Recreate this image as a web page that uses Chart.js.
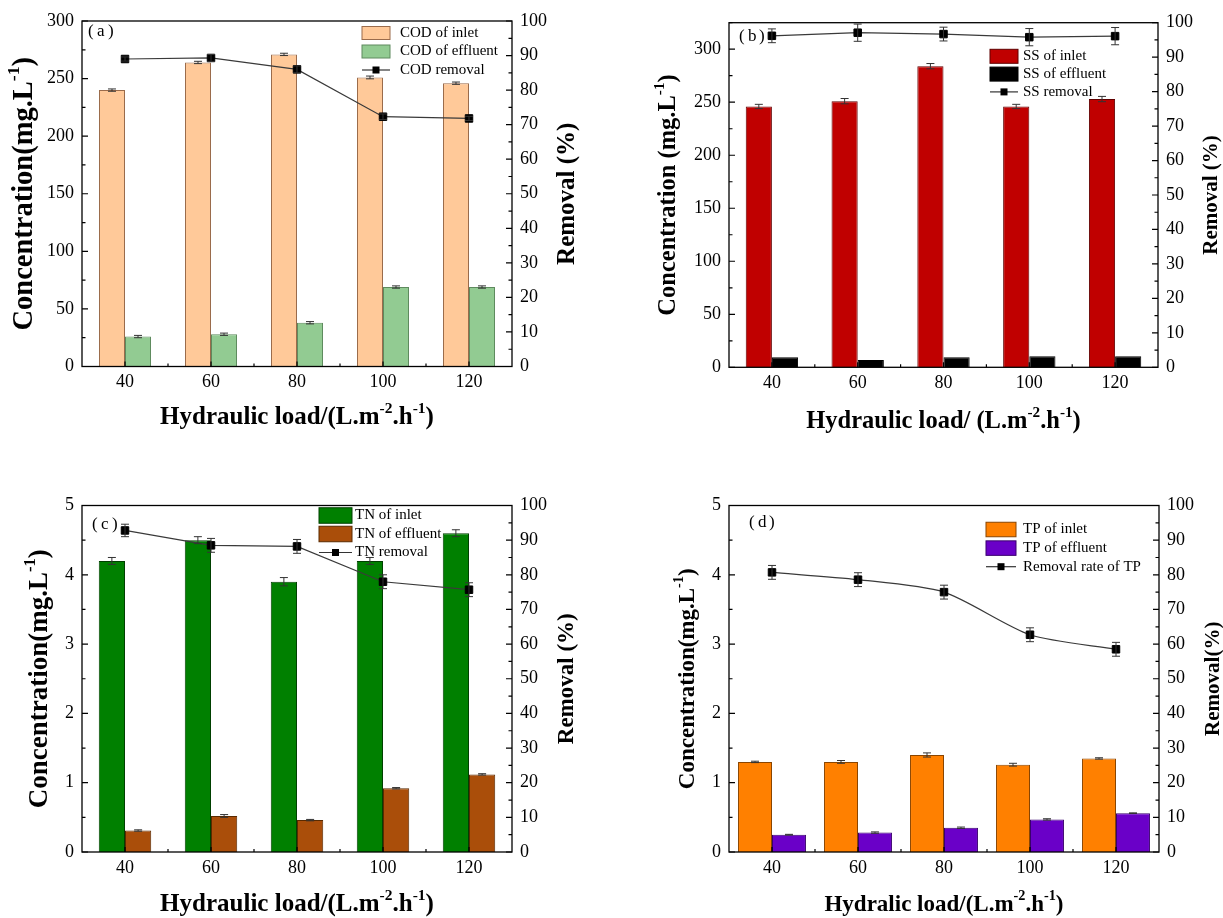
<!DOCTYPE html>
<html>
<head>
<meta charset="utf-8">
<script src="https://cdn.jsdelivr.net/npm/chart.js@4.4.1/dist/chart.umd.min.js"></script>
<style>
body { margin: 0; background: #fff; width: 1223px; height: 918px; overflow: hidden; position: relative; }
canvas { position: absolute; }
</style>
</head>
<body>
<canvas id="panelA" width="611" height="459" style="left:0;top:0"></canvas>
<canvas id="panelB" width="612" height="459" style="left:611px;top:0"></canvas>
<canvas id="panelC" width="611" height="459" style="left:0;top:459px"></canvas>
<canvas id="panelD" width="612" height="459" style="left:611px;top:459px"></canvas>
<script>
// cargas hidraulicas (eje x)
const cargas = ['40', '60', '80', '100', '120'];

// (a) COD
const codInlet = [240, 264, 271, 251, 246];
const codInletErr = [1, 1, 1, 1.2, 1];
const codEffluent = [26, 28, 38, 69, 69];
const codEffluentErr = [1, 1, 1, 1, 1];
const codRemoval = [89, 89.3, 86, 72.3, 71.8];
const codRemovalErr = [0.6, 1, 1, 0.8, 0.6];

// (b) SS
const ssInlet = [246, 251, 284, 246, 253];
const ssInletErr = [2, 2.5, 2.5, 2, 2.5];
const ssEffluent = [9.5, 7, 9.5, 10.5, 10.5];
const ssEffluentErr = [0, 0, 0, 0, 0];
const ssRemoval = [96.2, 97.1, 96.7, 95.8, 96.1];
const ssRemovalErr = [2, 2.5, 2, 2.5, 2.5];

// (c) TN
const tnInlet = [4.2, 4.5, 3.9, 4.2, 4.6];
const tnInletErr = [0.05, 0.05, 0.06, 0.05, 0.05];
const tnEffluent = [0.31, 0.52, 0.46, 0.92, 1.12];
const tnEffluentErr = [0.01, 0.02, 0.01, 0.01, 0.01];
const tnRemoval = [92.8, 88.5, 88.2, 78.0, 75.7];
const tnRemovalErr = [1.8, 2, 2, 2, 2];

// (d) TP
const tpInlet = [1.30, 1.30, 1.40, 1.26, 1.35];
const tpInletErr = [0.01, 0.02, 0.03, 0.02, 0.01];
const tpEffluent = [0.25, 0.28, 0.35, 0.47, 0.56];
const tpEffluentErr = [0.005, 0.01, 0.01, 0.01, 0.005];
const tpRemoval = [80.7, 78.6, 75.0, 62.7, 58.5];
const tpRemovalErr = [2, 2, 2, 2, 2];

const serif = "'Liberation Serif','Times New Roman',serif";

// texto con superindices: "mg.L^{-1}"
const dibujarTexto = (ctx, texto, size, bold, cx, cy, rot) => {
  const partes = texto.split(/\^\{([^}]*)\}/);
  const peso = bold ? 'bold ' : '';
  let total = 0;
  const medidas = partes.map((p, i) => {
    const s = i % 2 ? size * 0.62 : size;
    ctx.font = peso + s + 'px ' + serif;
    const w = ctx.measureText(p).width;
    total += w;
    return { p: p, s: s, w: w, sup: i % 2 === 1 };
  });
  ctx.save();
  ctx.translate(cx, cy);
  if (rot) ctx.rotate(rot);
  ctx.textBaseline = 'middle';
  ctx.textAlign = 'left';
  ctx.fillStyle = '#000';
  let x = -total / 2;
  medidas.forEach(m => {
    ctx.font = peso + m.s + 'px ' + serif;
    ctx.fillText(m.p, x, m.sup ? -size * 0.36 : 0);
    x += m.w;
  });
  ctx.restore();
};

const crearPanel = (id, cfg) => {
  const canvas = document.getElementById(id);
  const W = canvas.width, H = canvas.height;
  const area = cfg.area;

  const panelPlugin = {
    id: 'panel' + id,
    afterDatasetsDraw(chart) {
      const ctx = chart.ctx;
      const sy = chart.scales.y, sy1 = chart.scales.y1;

      // barras de error
      ctx.save();
      ctx.strokeStyle = '#333';
      ctx.lineWidth = 1;
      chart.data.datasets.forEach((ds, i) => {
        const meta = chart.getDatasetMeta(i);
        const escala = ds.yAxisID === 'y1' ? sy1 : sy;
        meta.data.forEach((el, j) => {
          const e = ds.errores[j];
          if (!e) return;
          const v = ds.data[j];
          const y1 = escala.getPixelForValue(v + e);
          const y2 = escala.getPixelForValue(v - e);
          ctx.beginPath();
          ctx.moveTo(el.x, y1); ctx.lineTo(el.x, y2);
          ctx.moveTo(el.x - 4, y1); ctx.lineTo(el.x + 4, y1);
          ctx.moveTo(el.x - 4, y2); ctx.lineTo(el.x + 4, y2);
          ctx.stroke();
        });
      });
      ctx.restore();
    },
    afterDraw(chart) {
      const ctx = chart.ctx;
      const ca = chart.chartArea;
      const sx = chart.scales.x, sy = chart.scales.y, sy1 = chart.scales.y1;
      ctx.save();
      ctx.strokeStyle = '#000';
      ctx.lineWidth = 1.3;
      ctx.strokeRect(ca.left, ca.top, ca.right - ca.left, ca.bottom - ca.top);

      // marcas hacia dentro
      ctx.lineWidth = 1.2;
      ctx.beginPath();
      sy.ticks.forEach(t => {
        const y = sy.getPixelForValue(t.value);
        const largo = t.label !== '' ? 6 : 3.5;
        ctx.moveTo(ca.left, y); ctx.lineTo(ca.left + largo, y);
      });
      sy1.ticks.forEach(t => {
        const y = sy1.getPixelForValue(t.value);
        const largo = t.label !== '' ? 6 : 3.5;
        ctx.moveTo(ca.right, y); ctx.lineTo(ca.right - largo, y);
      });
      for (let i = 0; i < cargas.length; i++) {
        const x = sx.getPixelForValue(i);
        ctx.moveTo(x, ca.bottom); ctx.lineTo(x, ca.bottom - 5);
        if (i < cargas.length - 1) {
          const xm = sx.getPixelForValue(i + 0.5);
          ctx.moveTo(xm, ca.bottom); ctx.lineTo(xm, ca.bottom - 3);
        }
      }
      ctx.stroke();

      // leyenda
      const lg = cfg.leyenda;
      chart.data.datasets.forEach((ds, i) => {
        const cy = lg.y + i * lg.dy;
        if (ds.type === 'bar') {
          ctx.fillStyle = ds.backgroundColor;
          ctx.fillRect(lg.x, cy - lg.h / 2, lg.w, lg.h);
          ctx.strokeStyle = ds.borderColor;
          ctx.lineWidth = 1;
          ctx.strokeRect(lg.x, cy - lg.h / 2, lg.w, lg.h);
        } else {
          ctx.strokeStyle = '#333';
          ctx.lineWidth = 1.2;
          ctx.beginPath();
          ctx.moveTo(lg.x, cy); ctx.lineTo(lg.x + lg.w, cy);
          ctx.stroke();
          ctx.fillStyle = '#000';
          ctx.fillRect(lg.x + lg.w / 2 - 3.5, cy - 3.5, 7, 7);
        }
        ctx.fillStyle = '#000';
        ctx.font = lg.size + 'px ' + serif;
        ctx.textAlign = 'left';
        ctx.textBaseline = 'middle';
        ctx.fillText(ds.label, lg.tx, cy);
      });

      // etiqueta del panel: ( a )
      ctx.font = '17px ' + serif;
      ctx.fillText('(', cfg.etqX, cfg.etqY);
      ctx.fillText(cfg.etiqueta, cfg.etqX + 9, cfg.etqY);
      ctx.fillText(')', cfg.etqX + 20, cfg.etqY);
      ctx.restore();

      // titulos de ejes
      const midY = (ca.top + ca.bottom) / 2;
      dibujarTexto(ctx, cfg.tituloX, cfg.tamX, true, (ca.left + ca.right) / 2, cfg.posX);
      dibujarTexto(ctx, cfg.tituloY, cfg.tamY, true, cfg.posY, midY, -Math.PI / 2);
      dibujarTexto(ctx, cfg.tituloY1, cfg.tamY1, true, cfg.posY1, midY, -Math.PI / 2);
    }
  };

  const fuenteTicks = { family: serif, size: 18 };
  return new Chart(canvas.getContext('2d'), {
    type: 'bar',
    data: {
      labels: cargas,
      datasets: [
        {
          type: 'bar', label: cfg.barras[0].label, data: cfg.barras[0].data, errores: cfg.barras[0].err,
          backgroundColor: cfg.barras[0].color, borderColor: cfg.barras[0].borde, borderWidth: 1,
          yAxisID: 'y', order: 2, categoryPercentage: cfg.catPct, barPercentage: 1
        },
        {
          type: 'bar', label: cfg.barras[1].label, data: cfg.barras[1].data, errores: cfg.barras[1].err,
          backgroundColor: cfg.barras[1].color, borderColor: cfg.barras[1].borde, borderWidth: 1,
          yAxisID: 'y', order: 2, categoryPercentage: cfg.catPct, barPercentage: 1
        },
        {
          type: 'line', label: cfg.linea.label, data: cfg.linea.data, errores: cfg.linea.err,
          borderColor: '#3a3a3a', borderWidth: 1.2, pointStyle: 'rect', pointRadius: 5.3,
          pointBackgroundColor: '#000', pointBorderColor: '#000', pointBorderWidth: 1,
          tension: cfg.tension || 0,
          fill: false, yAxisID: 'y1', order: 0
        }
      ]
    },
    options: {
      responsive: false,
      animation: false,
      layout: { padding: { top: area.top, left: 0, right: 0, bottom: 0 } },
      plugins: { legend: { display: false }, tooltip: { enabled: false } },
      scales: {
        x: {
          type: 'category', offset: true,
          grid: { display: false, drawTicks: false },
          border: { display: false },
          ticks: { font: fuenteTicks, color: '#000', padding: 5 },
          afterFit: (s) => { s.height = H - area.bottom; }
        },
        y: {
          position: 'left', min: 0, max: cfg.yMax,
          grid: { display: false, drawTicks: false },
          border: { display: false },
          ticks: {
            font: fuenteTicks, color: '#000', padding: 8, autoSkip: false,
            stepSize: cfg.yPaso / 2,
            callback: (v) => (Math.abs(v / cfg.yPaso - Math.round(v / cfg.yPaso)) < 1e-6 && v <= cfg.yEtiquetaMax) ? String(Math.round(v * 100) / 100) : ''
          },
          afterFit: (s) => { s.width = area.left; }
        },
        y1: {
          position: 'right', min: 0, max: 100,
          grid: { display: false, drawTicks: false },
          border: { display: false },
          ticks: {
            font: fuenteTicks, color: '#000', padding: 8, autoSkip: false, stepSize: 5,
            callback: (v) => v % 10 === 0 ? String(v) : ''
          },
          afterFit: (s) => { s.width = W - area.right; }
        }
      }
    },
    plugins: [panelPlugin]
  });
};

crearPanel('panelA', {
  area: { left: 82, right: 512, top: 21, bottom: 366.5 },
  yMax: 300, yPaso: 50, yEtiquetaMax: 300, catPct: 0.605,
  barras: [
    { label: 'COD of inlet', data: codInlet, err: codInletErr, color: '#FFC999', borde: '#9A6B4B' },
    { label: 'COD of effluent', data: codEffluent, err: codEffluentErr, color: '#92CB92', borde: '#5E8A5E' }
  ],
  linea: { label: 'COD removal', data: codRemoval, err: codRemovalErr },
  leyenda: { x: 362, y: 33, dy: 18.5, w: 28, h: 13, tx: 400, size: 15 },
  tituloX: 'Hydraulic load/(L.m^{-2}.h^{-1})', tamX: 25, posX: 418,
  tituloY: 'Concentration(mg.L^{-1})', tamY: 28.5, posY: 25,
  tituloY1: 'Removal (%)', tamY1: 25, posY1: 568,
  etiqueta: 'a', etqX: 88, etqY: 32
});

crearPanel('panelB', {
  area: { left: 118, right: 547, top: 22.7, bottom: 367.3 },
  yMax: 325, yPaso: 50, yEtiquetaMax: 300, catPct: 0.61,
  barras: [
    { label: 'SS of inlet', data: ssInlet, err: ssInletErr, color: '#C00000', borde: '#600000' },
    { label: 'SS of effluent', data: ssEffluent, err: ssEffluentErr, color: '#000000', borde: '#000000' }
  ],
  linea: { label: 'SS removal', data: ssRemoval, err: ssRemovalErr },
  leyenda: { x: 379, y: 56.3, dy: 17.8, w: 28, h: 14, tx: 412, size: 15 },
  tituloX: 'Hydraulic load/ (L.m^{-2}.h^{-1})', tamX: 24.5, posX: 421.5,
  tituloY: 'Concentration (mg.L^{-1})', tamY: 24.5, posY: 58,
  tituloY1: 'Removal (%)', tamY1: 21, posY1: 601,
  etiqueta: 'b', etqX: 128, etqY: 37
});

crearPanel('panelC', {
  area: { left: 82, right: 512, top: 46.5, bottom: 393 },
  yMax: 5, yPaso: 1, yEtiquetaMax: 5, catPct: 0.61,
  barras: [
    { label: 'TN of inlet', data: tnInlet, err: tnInletErr, color: '#008000', borde: '#004000' },
    { label: 'TN of effluent', data: tnEffluent, err: tnEffluentErr, color: '#AA4E0A', borde: '#5A2A00' }
  ],
  linea: { label: 'TN removal', data: tnRemoval, err: tnRemovalErr },
  leyenda: { x: 319, y: 56.5, dy: 18.5, w: 33, h: 15.5, tx: 355, size: 15 },
  tituloX: 'Hydraulic load/(L.m^{-2}.h^{-1})', tamX: 25, posX: 446,
  tituloY: 'Concentration(mg.L^{-1})', tamY: 27, posY: 40,
  tituloY1: 'Removal (%)', tamY1: 23, posY1: 567,
  etiqueta: 'c', etqX: 92, etqY: 66
});

crearPanel('panelD', {
  area: { left: 118, right: 548, top: 46.5, bottom: 393 },
  yMax: 5, yPaso: 1, yEtiquetaMax: 5, catPct: 0.79, tension: 0.25,
  barras: [
    { label: 'TP of inlet', data: tpInlet, err: tpInletErr, color: '#FF8000', borde: '#8A4500' },
    { label: 'TP of effluent', data: tpEffluent, err: tpEffluentErr, color: '#6A00C8', borde: '#3A006E' }
  ],
  linea: { label: 'Removal rate of TP', data: tpRemoval, err: tpRemovalErr },
  leyenda: { x: 375, y: 70.5, dy: 18.6, w: 30, h: 14.5, tx: 412, size: 15 },
  tituloX: 'Hydralic load/(L.m^{-2}.h^{-1})', tamX: 23, posX: 446,
  tituloY: 'Concentration(mg.L^{-1})', tamY: 23, posY: 77,
  tituloY1: 'Removal(%)', tamY1: 21, posY1: 603,
  etiqueta: 'd', etqX: 138, etqY: 64
});
</script>
</body>
</html>
